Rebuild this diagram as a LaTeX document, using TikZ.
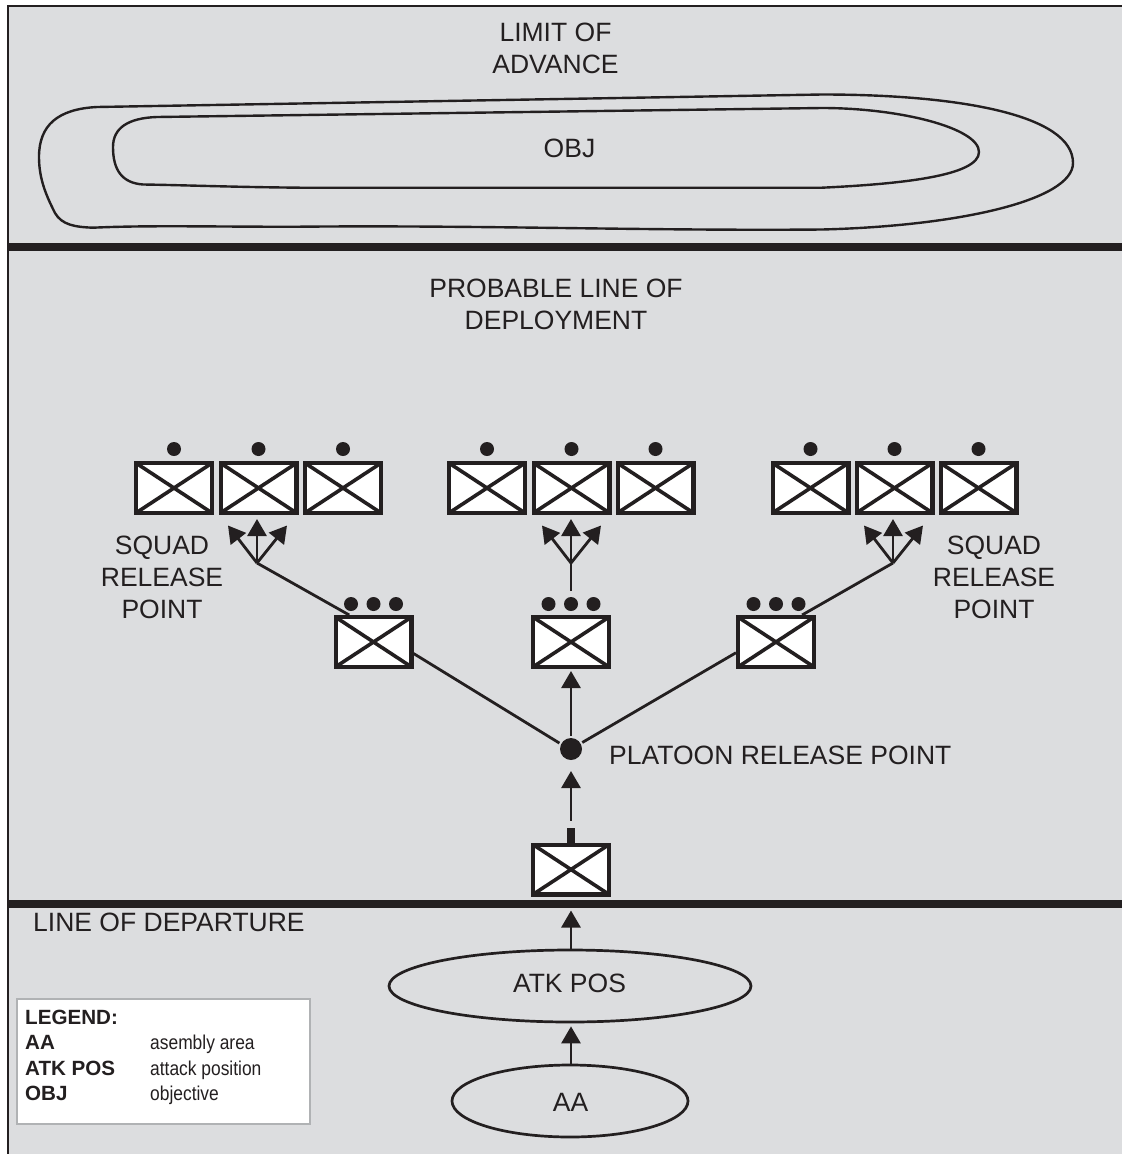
\documentclass[tikz,border=0pt]{standalone}
\usepackage{fontspec}
\setmainfont{Liberation Sans}
\usetikzlibrary{arrows.meta,shapes.geometric}
\definecolor{ink}{HTML}{231F20}
\definecolor{ground}{HTML}{DCDDDF}
\definecolor{legendedge}{HTML}{B0B2B4}
\tikzset{
  unitbox/.style={draw=ink,fill=white,line width=4.4pt,minimum width=75.6pt,minimum height=49.6pt,inner sep=0pt,
    path picture={\draw[ink,line width=3.6pt] (path picture bounding box.north west) -- (path picture bounding box.south east)
      (path picture bounding box.north east) -- (path picture bounding box.south west);}},
  smalldot/.style={circle,fill=ink,minimum size=14pt,inner sep=0pt},
  hubdot/.style={circle,fill=ink,minimum size=22pt,inner sep=0pt,outer sep=2pt},
  tickmark/.style={fill=ink,minimum width=8pt,minimum height=15pt,inner sep=0pt,outer sep=0pt},
  conn/.style={draw=ink,line width=2.8pt},
  arr/.style={conn,-{Triangle[length=17pt,width=19pt]}},
  bigtext/.style={text=ink,inner sep=0pt,align=center,font=\fontsize{26.5}{32}\selectfont},
  area/.style={draw=ink,line width=2.7pt,inner sep=0pt,ellipse},
  blob/.style={draw=ink,line width=2.4pt},
  legbold/.style={text=ink,inner sep=0pt,anchor=base west,font=\fontsize{20.6}{24}\selectfont\bfseries},
  legtext/.style={text=ink,inner sep=0pt,anchor=base west,font=\fontsize{20}{24}\selectfont},
}
\begin{document}
\begin{tikzpicture}[x=1pt,y=-1pt]
\useasboundingbox (0,0) rectangle (1122,1154);
\fill[ground] (8,6) rectangle (1122,1154);
\draw[ink,line width=2.5pt] (8,1154) -- (8,6) -- (1122,6);
\fill[ink] (8,243) rectangle (1122,251);
\fill[ink] (8,900) rectangle (1122,908);
% objective outlines
\draw[blob] (97,107) -- (822,94.5) .. controls (960,94.5) and (1073,115) .. (1073,163)
  .. controls (1073,200) and (960,226) .. (822,229.5)
  .. controls (650,231) and (480,225) .. (300,226.7)
  .. controls (220,227) and (150,225) .. (93,227.7)
  .. controls (75,227) and (62,225) .. (55,213)
  .. controls (47,197) and (39,180) .. (39,157)
  .. controls (39,125) and (58,109) .. (97,107) -- cycle;
\draw[blob] (157,117) -- (822,108) .. controls (900,108) and (979,128) .. (979,152)
  .. controls (979,176) and (900,184) .. (822,187.7)
  -- (300,187.7)
  .. controls (230,187) and (180,185) .. (143,184.5)
  .. controls (122,183) and (113,170) .. (113,147)
  .. controls (113,128) and (128,118) .. (157,117) -- cycle;
% texts
\node[bigtext] (tlimit) at (555.5,48) {LIMIT OF\\ADVANCE};
\node[bigtext] (tobj) at (569.5,148) {OBJ};
\node[bigtext] (tprob) at (556,304) {PROBABLE LINE OF\\DEPLOYMENT};
\node[bigtext] (tsqL) at (162,577) {SQUAD\\RELEASE\\POINT};
\node[bigtext] (tsqR) at (994,577) {SQUAD\\RELEASE\\POINT};
\node[bigtext,anchor=west] (tplat) at (609,755) {PLATOON RELEASE POINT};
\node[bigtext,anchor=base west] (tlod) at (33,931) {LINE OF DEPARTURE};
% squad boxes
\foreach \n/\x in {a1/174,a2/258.5,a3/343,b1/487,b2/571.5,b3/655.5,c1/810.5,c2/894.5,c3/978.5}{
  \node[unitbox] (\n) at (\x,488) {};
  \node[smalldot] (dot\n) at (\x,449) {};
}
% platoon boxes
\foreach \n/\x in {m1/373.5,m2/571,m3/776}{
  \node[unitbox] (\n) at (\x,642) {};
  \node[smalldot] (dot\n l) at (\x-22.5,604) {};
  \node[smalldot] (dot\n c) at (\x,604) {};
  \node[smalldot] (dot\n r) at (\x+22.5,604) {};
}
% company box, release point, areas
\node[unitbox] (lb) at (571,869.5) {};
\node[tickmark,anchor=south] (tick) at (lb.north) {};
\node[hubdot] (pr) at (571,749) {};
\node[area,minimum width=362pt,minimum height=72pt] (atk) at (570,986) {};
\node[area,minimum width=236pt,minimum height=72pt] (aa) at (570,1101) {};
\node[bigtext,anchor=base] (tatk) at (569.5,992.7) {ATK POS};
\node[bigtext,anchor=base] (taa) at (570.5,1111.7) {AA};
% hubs and arrow ends
\coordinate (hubL) at (257,563);
\coordinate (hubM) at (571,563);
\coordinate (hubR) at (893,563);
\foreach \h/\x in {hubL/257,hubM/571,hubR/893}{
  \coordinate (\h l) at (\x-29,525.5);
  \coordinate (\h c) at (\x,519);
  \coordinate (\h r) at (\x+30,525.5);
  \draw[arr] (\h) -- (\h l);
  \draw[arr] (\h) -- (\h c);
  \draw[arr] (\h) -- (\h r);
}
% connectors
\draw[conn] (m1.132) -- (hubL);
\draw[conn,shorten <=24pt] (m2.north) -- (hubM);
\draw[conn] (m3.46) -- (hubR);
\draw[conn] (pr.153) -- (m1.-16);
\draw[conn] (pr.30) -- (m3.195.7);
\draw[arr,shorten >=2pt] (pr.north) -- (m2.south);
\draw[arr,shorten <=7pt,shorten >=9pt] (tick.north) -- (pr.south);
\draw[arr,shorten >=14pt] (atk.north -| lb.south) -- (lb.south);
\draw[arr,shorten >=3pt] (aa.north -| lb.south) -- (atk.south -| lb.south);
% legend
\node[draw=legendedge,fill=white,line width=2pt,minimum width=293pt,minimum height=125pt,inner sep=0pt] (legend) at (163.5,1061) {};
\node[legbold] (lg0) at (25,1024) {LEGEND:};
\node[legbold] (lg1) at (25,1049.5) {AA};
\node[legbold] (lg2) at (25,1075) {ATK POS};
\node[legbold] (lg3) at (25,1100.5) {OBJ};
\node[legtext] (ld1) at (150,1049.5) {\scalebox{.87}[1]{asembly area}};
\node[legtext] (ld2) at (150,1075) {\scalebox{.87}[1]{attack position}};
\node[legtext] (ld3) at (150,1100.5) {\scalebox{.87}[1]{objective}};
\end{tikzpicture}
\end{document}
